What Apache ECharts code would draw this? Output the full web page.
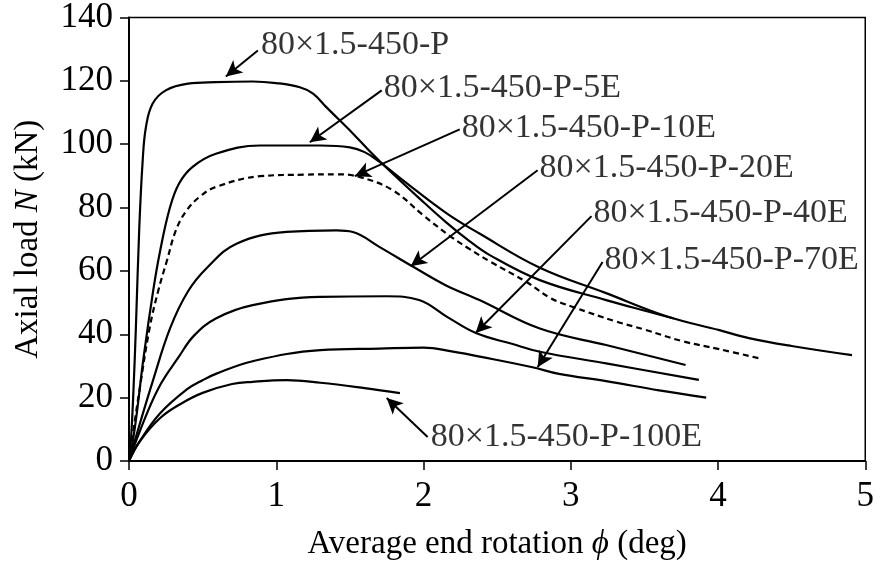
<!DOCTYPE html>
<html><head><meta charset="utf-8">
<script src="https://cdn.jsdelivr.net/npm/echarts@6/dist/echarts.min.js"></script>
<style>html,body{margin:0;padding:0;background:#fff}#c{width:877px;height:572px}</style>
</head><body><div id="c"></div>
<script>
// ---- data ----
const seriesNames = ['80×1.5-450-P','80×1.5-450-P-5E','80×1.5-450-P-10E','80×1.5-450-P-20E','80×1.5-450-P-40E','80×1.5-450-P-70E','80×1.5-450-P-100E'];

const P_x = [0,0.015,0.03,0.047,0.07,0.093,0.115,0.16,0.25,0.40,0.59,0.84,1.0,1.16,1.25,1.34,1.52,1.63,1.75,1.97,2.15,2.31,2.45,2.79,3.24,3.53,3.7];
const P_y = [0,8,22,42.4,73.9,94.9,105.4,112.8,117,119.1,119.6,119.8,119.3,118,116,111.7,103.4,98,92.5,83,75.5,69.5,65,57.1,50.8,47.1,45];

const E5_x = [0,0.025,0.05,0.1,0.165,0.21,0.278,0.34,0.43,0.59,0.89,1.3,1.5,1.6,1.7,1.85,2.16,2.38,2.79,3.24,3.65,4.01,4.21,4.5,4.91];
const E5_y = [0,6,14,33,54,66,80,87.6,92.8,97,99.6,99.6,99,97.5,94.5,89,78.1,71.8,61,53,45.7,41.3,38.8,36.3,33.4];

const E10_x = [0,0.028,0.07,0.14,0.2,0.256,0.32,0.39,0.48,0.59,0.89,1.2,1.41,1.57,1.79,2.0,2.18,2.31,2.45,2.7,2.86,3.01,3.31,3.5,3.76,4.01,4.3];
const E10_y = [0,9,22,42,54,63,73,79,83.4,86.5,89.9,90.4,90.5,89.6,85.5,77.5,71,67,63,56.5,51.5,48.7,44,41.5,37.8,35.3,32.2];

const E20_x = [0,0.075,0.16,0.28,0.4,0.53,0.73,1.07,1.41,1.52,1.7,1.93,2.15,2.38,2.79,3.24,3.78];
const E20_y = [0,12,25,42,53.5,61,68.6,72.3,72.8,72.3,67.6,61.3,55.5,50.8,41.8,36.6,30.3];

const E40_x = [0,0.07,0.2,0.34,0.44,0.59,0.84,1.3,1.75,1.97,2.16,2.36,2.6,2.79,3.24,3.87];
const E40_y = [0,9,23,33,39.5,45,49.2,51.8,52.0,50.8,45.5,40.3,37,34.5,30.8,25.6];

const E70_x = [0,0.07,0.21,0.39,0.5,0.59,0.84,1.3,1.7,2.0,2.2,2.4,2.74,2.92,3.24,3.6,3.92];
const E70_y = [0,6,15,22.5,25.5,27.5,31.5,35.0,35.5,35.8,34.5,32.8,29.6,27.5,25.2,22.3,20.0];

const E100_x = [0,0.07,0.21,0.35,0.5,0.7,0.84,1.07,1.3,1.6,1.84];
const E100_y = [0,6,13.5,18,21.5,24.3,25,25.5,24.7,23,21.4];

const xTicks = [0,1,2,3,4,5];
const yTicks = [0,20,40,60,80,100,120,140];

// ---- annotation placement (data coordinates) ----
const labelX = [0.896,1.73,2.259,2.788,3.155,3.229,2.049];
const labelY = [131.2,117.6,105.0,92.4,78.2,63.4,7.6];
const tailX  = [0.875,1.716,2.246,2.775,3.141,3.216,2.028];
const tailY  = [129.6,117.0,104.7,91.8,77.3,62.8,7.6];
const headX  = [0.658,1.228,1.533,1.913,2.354,2.775,1.75];
const headY  = [121.4,100.6,89.9,61.5,40.4,29.6,19.9];

const xs = [P_x,E5_x,E10_x,E20_x,E40_x,E70_x,E100_x];
const ys = [P_y,E5_y,E10_y,E20_y,E40_y,E70_y,E100_y];

const FONT = 'Liberation Serif';
const chart = echarts.init(document.getElementById('c'), null, {renderer:'canvas'});

const lineSeries = seriesNames.map((n,i)=>({
  name:n, type:'line', showSymbol:false, symbol:'none',
  smooth:0.4,
  data: xs[i].map((x,k)=>[x, ys[i][k]]),
  lineStyle:{color:'#000', width:2.2, type: i===2 ? [6,4] : 'solid'},
  z:2, silent:true
}));

const arrowSeries = {
  type:'line', data:[], silent:true, symbol:'none',
  markLine:{
    silent:true, animation:false,
    symbol:['none','arrow'], symbolSize:[12,16],
    label:{show:false},
    lineStyle:{color:'#000', width:2, type:'solid'},
    data: tailX.map((t,i)=>[{coord:[t, tailY[i]]},{coord:[headX[i], headY[i]]}])
  }
};

const labelSeries = {
  type:'scatter', symbolSize:0, silent:true,
  data: labelX.map((x,i)=>({value:[x,labelY[i]], name:seriesNames[i]})),
  label:{show:true, position:'right', distance:0, formatter:p=>p.name,
    fontFamily:FONT, fontSize:34, color:'#000', align:'left', verticalAlign:'middle'},
  z:5
};

chart.setOption({
  animation:false,
  backgroundColor:'#fff',
  grid:{left:129, right:11, top:17, bottom:111, show:true, borderColor:'#000', borderWidth:1.5, backgroundColor:'transparent'},
  xAxis:{type:'value', min:xTicks[0], max:xTicks[xTicks.length-1], interval:1,
    name:'Average end rotation {i|ϕ} (deg)', nameLocation:'middle', nameGap:67,
    nameTextStyle:{fontFamily:FONT, fontSize:33, color:'#000', rich:{i:{fontFamily:FONT, fontSize:33, fontStyle:'italic', color:'#000'}}},
    axisLine:{lineStyle:{color:'#000', width:2}},
    axisTick:{show:true, inside:false, length:9, lineStyle:{color:'#000', width:1.5}},
    axisLabel:{fontFamily:FONT, fontSize:35, color:'#000', margin:18},
    splitLine:{show:false}},
  yAxis:{type:'value', min:yTicks[0], max:yTicks[yTicks.length-1], interval:20,
    name:'Axial load {i|N} (kN)', nameLocation:'middle', nameGap:84,
    nameTextStyle:{fontFamily:FONT, fontSize:33, color:'#000', rich:{i:{fontFamily:FONT, fontSize:33, fontStyle:'italic', color:'#000'}}},
    axisLine:{show:true, lineStyle:{color:'#000', width:2}},
    axisTick:{show:true, inside:false, length:9, lineStyle:{color:'#000', width:1.5}},
    axisLabel:{fontFamily:FONT, fontSize:35, color:'#000', margin:16},
    splitLine:{show:false}},
  series:[...lineSeries, arrowSeries, labelSeries]
});
</script></body></html>
